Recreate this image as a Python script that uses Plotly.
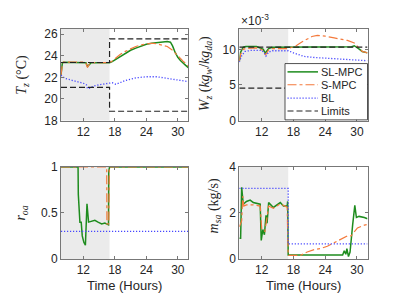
import plotly.graph_objects as go

# ---------------- data ----------------
# Zone temperature Tz (degC)
t_T_sl = [7.75, 8.0, 8.2, 10, 12, 12.5, 12.8, 13.1, 13.5, 15, 17, 17.5, 18, 19, 20, 21, 22, 23, 24, 25, 26, 27, 28, 28.6, 29.0, 29.5, 30, 30.5, 31, 31.5, 32]
T_sl = [22.2, 23.3, 23.4, 23.4, 23.4, 23.35, 23.0, 23.2, 23.35, 23.35, 23.35, 23.45, 23.6, 23.95, 24.25, 24.5, 24.7, 24.9, 25.05, 25.15, 25.2, 25.25, 25.3, 25.25, 24.9, 24.3, 23.85, 23.55, 23.3, 23.1, 22.9]
t_T_s = [7.75, 8.0, 8.2, 10, 12, 12.5, 12.8, 13.1, 13.5, 15, 17, 17.5, 18, 19, 20, 21, 22, 23, 24, 25, 26, 27, 28, 29, 30, 31, 32]
T_s = [22.2, 23.2, 23.4, 23.4, 23.4, 23.3, 22.9, 23.2, 23.35, 23.35, 23.35, 23.5, 23.7, 24.1, 24.4, 24.65, 24.85, 25.0, 25.1, 25.15, 25.1, 25.0, 24.85, 24.5, 23.95, 23.5, 23.05]
t_T_bl = [7.75, 8.5, 10, 12, 12.6, 12.8, 13.2, 14, 15, 16, 17, 17.5, 18.2, 20, 22, 24, 26, 28, 30, 32]
T_bl = [22.2, 21.9, 21.7, 21.45, 21.3, 20.95, 21.0, 21.2, 21.3, 21.4, 21.5, 21.5, 21.35, 21.7, 21.95, 22.05, 22.05, 21.9, 21.75, 21.6]
t_T_lim = [7.75, 17, 17, 32]
T_lim_up = [23.37, 23.37, 25.56, 25.56]
T_lim_lo = [21.07, 21.07, 18.86, 18.86]

# Zone humidity ratio Wz (x1e-3 kg_w/kg_da)
t_W_sl = [7.75, 8.0, 8.5, 9, 11, 11.7, 12.3, 12.65, 13.0, 13.3, 14, 17, 20, 25, 29, 29.5, 30, 30.5, 31, 31.5, 32]
W_sl = [8.35, 9.6, 10.3, 10.4, 10.4, 10.15, 10.0, 9.45, 9.8, 10.1, 10.3, 10.3, 10.3, 10.3, 10.35, 10.5, 10.3, 10.0, 9.7, 9.6, 9.5]
t_W_s = [7.75, 8.0, 8.5, 9, 11, 11.7, 12.3, 12.7, 13.3, 14, 17, 17.5, 18.5, 19.5, 20.5, 21.5, 22.5, 24, 25.7, 27, 28.2, 29.5, 30, 30.5, 31, 32]
W_s = [8.3, 9.3, 10.0, 10.13, 10.2, 10.05, 9.8, 9.2, 9.9, 10.1, 10.1, 10.25, 10.5, 11.0, 11.45, 11.8, 11.95, 11.85, 11.6, 11.4, 11.25, 10.9, 10.5, 10.0, 9.7, 9.5]
t_W_bl = [7.75, 8.2, 8.8, 10, 12, 12.5, 12.8, 13.3, 14, 17, 18, 19, 20, 22, 24, 26, 28, 30, 32]
W_bl = [8.2, 9.1, 9.7, 9.85, 9.85, 9.5, 9.05, 9.6, 9.8, 9.8, 9.5, 9.2, 9.0, 8.85, 8.75, 8.65, 8.6, 8.5, 8.4]
t_W_lim = [7.75, 32]
W_lim_up = [10.3, 10.3]
W_lim_lo = [4.55, 4.55]

# Outdoor air ratio r_oa
t_r_sl = [7.75, 11.0, 11.05, 11.35, 11.6, 11.8, 12.1, 12.4, 12.6, 12.7, 13.0, 13.6, 14.2, 14.8, 15.5, 16.1, 16.5, 16.8, 16.85, 17.0, 32]
r_sl = [1.0, 1.0, 0.7, 0.4, 0.4, 0.25, 0.18, 0.15, 0.45, 0.6, 0.4, 0.41, 0.42, 0.4, 0.38, 0.39, 0.38, 0.37, 0.95, 1.0, 1.0]
t_r_s = [7.75, 16.45, 16.5, 16.85, 16.95, 32]
r_s = [1.0, 1.0, 0.38, 0.38, 1.0, 1.0]
t_r_bl = [7.75, 32]
r_bl = [0.3, 0.3]

# Supply air mass flow m_sa (kg/s)
t_m_sl = [7.75, 8.0, 8.2, 8.5, 9.1, 9.8, 10.4, 11.05, 11.7, 11.9, 12.2, 12.5, 12.8, 13.0, 13.3, 14.2, 15.5, 16.1, 16.8, 16.9, 17.0, 27.3, 27.6, 27.9, 28.1, 28.4, 28.7, 29.2, 29.6, 29.9, 30.4, 31.4, 32]
m_sl = [0.9, 0.9, 3.12, 2.38, 2.5, 2.56, 2.45, 2.4, 2.38, 0.8, 1.28, 1.05, 1.9, 1.55, 2.45, 2.24, 2.45, 2.3, 2.3, 2.5, 0.17, 0.17, 0.35, 0.2, 0.45, 0.1, 0.3, 1.5, 2.33, 1.8, 1.85, 1.8, 1.75]
t_m_s = [7.75, 8.2, 8.4, 8.6, 9.1, 10.4, 11.7, 12.0, 12.6, 13.3, 14.2, 15.5, 16.8, 17.0, 19.3, 20.6, 21.9, 23.1, 24.4, 25.7, 27.0, 28.2, 28.9, 29.5, 30.1, 31.4, 32]
m_s = [1.4, 1.65, 2.73, 2.3, 2.35, 2.35, 2.3, 1.28, 1.2, 2.3, 2.2, 2.4, 2.25, 0.15, 0.15, 0.3, 0.4, 0.45, 0.55, 0.7, 0.85, 1.0, 1.0, 1.2, 1.35, 1.47, 1.5]
t_m_bl = [7.75, 17.0, 17.0, 32]
m_bl = [3.07, 3.07, 0.65, 0.65]

x_ticks = [12, 18, 24, 30]
T_ticks = [18, 20, 22, 24, 26]
W_ticks = [0, 5, 10]
r_ticks = [0, 0.5, 1]
m_ticks = [0, 2, 4]
occupied = [7.75, 17]
series_names = ["SL-MPC", "S-MPC", "BL", "Limits"]

# ---------------- styles ----------------
W, H = 407, 305
GREEN, ORANGE, BLUE, BLACK = "#1e8c1e", "#f47a3c", "#4646ff", "#222222"
sty = {
    "SL-MPC": dict(color=GREEN, width=1.5, dash="solid"),
    "S-MPC": dict(color=ORANGE, width=1.2, dash="dashdot"),
    "BL": dict(color=BLUE, width=1.3, dash="1.2px,1.8px"),
    "Limits": dict(color=BLACK, width=1.2, dash="6px,3px"),
}
AX = "#777777"
TXT = "#262626"

def px(x):
    return x / W

def py(y):
    return 1 - y / H

fig = go.Figure()

def add(t, v, name, ax):
    xa = "x" if ax == 1 else f"x{ax}"
    ya = "y" if ax == 1 else f"y{ax}"
    fig.add_trace(go.Scatter(x=t, y=v, mode="lines", name=name, line=sty[name],
                             xaxis=xa, yaxis=ya, showlegend=False, hoverinfo="skip"))

# panel 1: Tz
add(t_T_sl, T_sl, "SL-MPC", 1)
add(t_T_s, T_s, "S-MPC", 1)
add(t_T_bl, T_bl, "BL", 1)
add(t_T_lim, T_lim_up, "Limits", 1)
add(t_T_lim, T_lim_lo, "Limits", 1)
# panel 2: Wz
add(t_W_sl, W_sl, "SL-MPC", 2)
add(t_W_s, W_s, "S-MPC", 2)
add(t_W_bl, W_bl, "BL", 2)
add(t_W_lim, W_lim_up, "Limits", 2)
add(t_W_lim, W_lim_lo, "Limits", 2)
# panel 3: r_oa
add(t_r_sl, r_sl, "SL-MPC", 3)
add(t_r_s, r_s, "S-MPC", 3)
add(t_r_bl, r_bl, "BL", 3)
# panel 4: m_sa
add(t_m_sl, m_sl, "SL-MPC", 4)
add(t_m_s, m_s, "S-MPC", 4)
add(t_m_bl, m_bl, "BL", 4)

xL = [px(61), px(188.3)]
xR = [px(239.3), px(367.5)]
yT = [py(119), py(22.7)]
yB = [py(264), py(167.7)]

def axis(domain, rng, ticks, anchor, ticktext=None):
    d = dict(domain=domain, range=rng, tickvals=ticks, showline=True, linecolor=AX, linewidth=1,
             mirror="ticks", ticks="inside", ticklen=3, tickcolor=AX, tickwidth=1,
             showgrid=False, zeroline=False, anchor=anchor, fixedrange=True,
             tickfont=dict(family="Liberation Sans, Arial, sans-serif", size=12, color=TXT))
    if ticktext is not None:
        d["ticktext"] = ticktext
    return d

xr = [7.75, 32]
fig.update_layout(
    width=W, height=H, margin=dict(l=0, r=0, t=0, b=0),
    plot_bgcolor="white", paper_bgcolor="white",
    xaxis=axis(xL, xr, x_ticks, "y"),
    yaxis=axis(yT, [18, 26.5], T_ticks, "x"),
    xaxis2=axis(xR, xr, x_ticks, "y2"),
    yaxis2=axis(yT, [0, 12.9], W_ticks, "x2"),
    xaxis3=axis(xL, xr, x_ticks, "y3"),
    yaxis3=axis(yB, [0, 1], r_ticks, "x3", ticktext=["0", "0.5", "1"]),
    xaxis4=axis(xR, xr, x_ticks, "y4"),
    yaxis4=axis(yB, [0, 4], m_ticks, "x4"),
    showlegend=False,
)

# occupied-period shading
shapes = []
for i in ["", "2", "3", "4"]:
    shapes.append(dict(type="rect", xref="x" + i, yref=("y" + i + " domain"), x0=occupied[0], x1=occupied[1],
                       y0=0, y1=1, fillcolor="#ebebeb", line=dict(width=0), layer="below"))

# legend box (drawn in panel 2)
lx0, lx1, ly0, ly1 = 285, 367.5, 59.3, 118.3
shapes.append(dict(type="rect", xref="paper", yref="paper", x0=px(lx0), x1=px(lx1), y0=py(ly1), y1=py(ly0),
                   fillcolor="white", line=dict(color=TXT, width=0.8), layer="above"))
rows = [68.0, 81.5, 95.5, 109.0]
annotations = []
for name, ry in zip(series_names, rows):
    s = sty[name]
    shapes.append(dict(type="line", xref="paper", yref="paper", x0=px(287.5), x1=px(318), y0=py(ry), y1=py(ry),
                       line=dict(color=s["color"], width=s["width"], dash=s["dash"]), layer="above"))
    annotations.append(dict(xref="paper", yref="paper", x=px(318.5), y=py(ry), text=name, showarrow=False,
                            xanchor="left", yanchor="middle",
                            font=dict(family="Liberation Sans, Arial, sans-serif", size=11, color=TXT)))

serif = dict(family="Liberation Serif, Times New Roman, serif", size=14, color=TXT)
sans = dict(family="Liberation Sans, Arial, sans-serif", size=13, color=TXT)

def lab(x, y, text, font, angle=0, xanchor="center"):
    annotations.append(dict(xref="paper", yref="paper", x=px(x), y=py(y), text=text, showarrow=False,
                            textangle=angle, xanchor=xanchor, yanchor="middle", font=font))

lab(23, 71, "<i>T<sub>z</sub></i> (°C)", serif, -90)
lab(205.5, 70, "<i>W<sub>z</sub></i> (<i>kg<sub>w</sub></i>/<i>kg<sub>da</sub></i>)", serif, -90)
lab(21.5, 216, "<i>r<sub>oa</sub></i>", serif, -90)
lab(214, 209, "<i>m<sub>sa</sub></i> (kg/s)", serif, -90)
lab(124.7, 291.5, "Time (Hours)", sans)
lab(303.4, 291.5, "Time (Hours)", sans)
lab(239, 14, "×10<sup>-3</sup>", dict(family="Liberation Sans, Arial, sans-serif", size=12, color=TXT), 0, "left")

fig.update_layout(shapes=shapes, annotations=annotations)

fig.write_html("out.html", config={"displayModeBar": False},
               post_script="document.body.style.margin='0';document.body.style.overflow='hidden';")
